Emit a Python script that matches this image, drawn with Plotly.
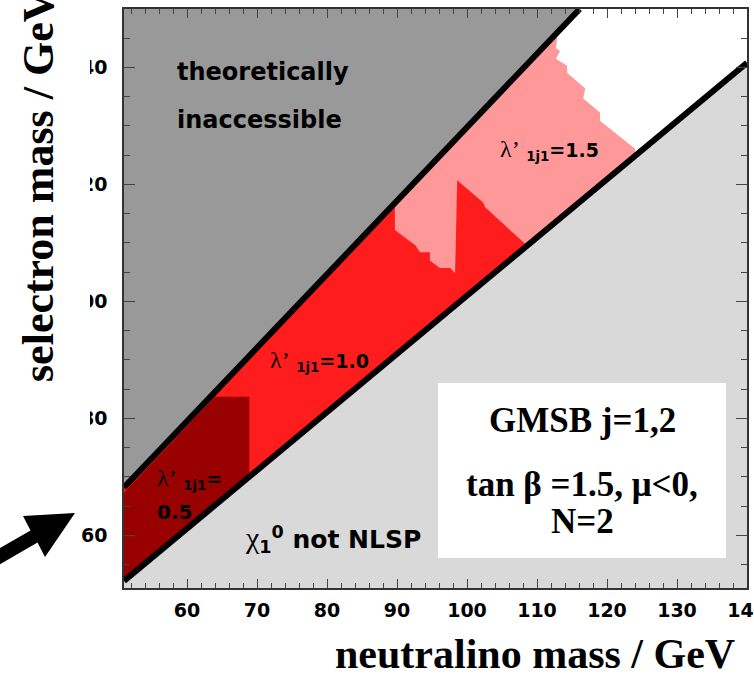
import plotly.graph_objects as go

# Kinematic boundaries (neutralino mass, selectron mass) in GeV
theory_edge_x = [51.0, 116.1]
theory_edge_y = [68.2, 150.0]
nlsp_edge_x = [51.0, 140.0]
nlsp_edge_y = [52.2, 140.8]

# Excluded regions for lambda'_1j1 = 1.5, 1.0, 0.5
excl15_x = [51.0, 51.0, 113.0, 112.7, 113.3, 112.7, 114.3, 114.3, 116.9, 116.6,
            119.0, 119.0, 124.0, 124.0]
excl15_y = [52.2, 68.2, 146.2, 143.3, 142.8, 141.5, 140.3, 139.1, 136.4, 134.7,
            132.3, 130.9, 126.1, 124.9]
excl10_x = [51.0, 51.0, 89.7, 89.7, 92.6, 93.3, 94.7, 94.7, 96.1, 97.6, 98.3,
            98.6, 102.3, 102.6, 108.6]
excl10_y = [52.2, 68.2, 116.9, 112.2, 109.6, 108.4, 108.4, 107.0, 105.7, 105.7,
            104.8, 120.7, 116.9, 116.1, 109.5]
excl05_x = [51.0, 51.0, 64.0, 68.9, 68.9]
excl05_y = [52.2, 67.3, 83.7, 83.7, 70.0]

x_ticks = [60, 70, 80, 90, 100, 110, 120, 130, 140]
y_ticks = [60, 80, 100, 120, 140]
x_range = [51, 140]
y_range = [51, 150]

W, H = 754, 674
L, R, T, B = 124, 7, 9, 86
PW, PH = W - L - R, H - T - B


def pp(xp, yp):
    """Pixel position on the page -> paper coordinates."""
    return (xp - L) / PW, (H - B - yp) / PH


fig = go.Figure()


def poly(xs, ys, color):
    fig.add_trace(go.Scatter(x=xs, y=ys, mode="lines", fill="toself",
                             fillcolor=color, line=dict(width=0, color=color),
                             hoverinfo="skip"))


# light grey: neutralino not the NLSP
poly([x_range[0], nlsp_edge_x[0], nlsp_edge_x[1], x_range[1]],
     [y_range[0] - 5, nlsp_edge_y[0], nlsp_edge_y[1], y_range[0] - 5], "#d9d9d9")
# dark grey: theoretically inaccessible
poly([theory_edge_x[0], x_range[0], theory_edge_x[1]],
     [theory_edge_y[0], y_range[1] + 5, theory_edge_y[1]], "#999999")
poly(excl15_x, excl15_y, "#ff9999")
poly(excl10_x, excl10_y, "#ff1c1c")
poly(excl05_x, excl05_y, "#990000")

for ex, ey in [(theory_edge_x, theory_edge_y), (nlsp_edge_x, nlsp_edge_y)]:
    fig.add_trace(go.Scatter(x=ex, y=ey, mode="lines",
                             line=dict(color="black", width=6), hoverinfo="skip"))

axis_common = dict(showgrid=False, zeroline=False, showline=True, linecolor="#333333",
                   linewidth=1.5, mirror="ticks", ticks="inside", tickcolor="#444444",
                   automargin=False, ticklabeloverflow="allow",
                   tickfont=dict(family="DejaVu Sans", size=19, color="black",
                                 weight="bold"))

fig.update_xaxes(range=x_range, tickvals=x_ticks,
                 ticktext=[f"<b>{v}</b>" for v in x_ticks],
                 ticklen=9, tickwidth=1.3, ticklabelstandoff=4,
                 minor=dict(dtick=2, ticks="inside", ticklen=5, tickcolor="#444444", tickwidth=1),
                 **axis_common)
fig.update_yaxes(range=y_range, tickvals=y_ticks,
                 ticktext=[f"<b>{v}</b>" for v in y_ticks],
                 ticklen=11, tickwidth=1.3, ticklabelstandoff=11,
                 minor=dict(dtick=5, ticks="inside", ticklen=6, tickcolor="#444444", tickwidth=1),
                 **axis_common)

shapes = []
# white info box
bx0, by0 = pp(438, 558)
bx1, by1 = pp(726, 383)
shapes.append(dict(type="rect", xref="paper", yref="paper", x0=bx0, y0=by0, x1=bx1, y1=by1,
                   fillcolor="white", line=dict(width=0), layer="above"))
# white strip at the page's left edge
cx0, cy0 = pp(0, 500)
cx1, cy1 = pp(90, -5)
shapes.append(dict(type="rect", xref="paper", yref="paper", x0=cx0, y0=cy0, x1=cx1, y1=cy1,
                   fillcolor="white", line=dict(width=0), layer="above"))
# black arrow
arrow_pts = [(-8.5, 552.9), (30.5, 530.4), (23, 516), (75, 513), (45, 557),
             (37.5, 542.6), (-1.5, 565)]
path = ""
for i, (ax_, ay_) in enumerate(arrow_pts):
    qx, qy = pp(ax_, ay_)
    path += ("M" if i == 0 else "L") + f"{qx:.5f},{qy:.5f} "
path += "Z"
shapes.append(dict(type="path", xref="paper", yref="paper", path=path,
                   fillcolor="black", line=dict(width=0), layer="above"))

sans = dict(family="DejaVu Sans", color="black", weight=700)
serif = dict(family="Liberation Serif", color="black", weight=700)
LAM = '<span style="font-family:Liberation Serif;font-weight:normal;font-size:24px">λ’</span>'

annots = []


def label(text, xp, yp, font, size, xanchor="left", **kw):
    ax_, ay_ = pp(xp, yp)
    annots.append(dict(text=text, x=ax_, y=ay_, xref="paper", yref="paper",
                       xanchor=xanchor, yanchor="middle", showarrow=False,
                       font=dict(size=size, **font), **kw))


label("theoretically", 175, 72, sans, 24)
label("inaccessible", 175, 120, sans, 24)
label(LAM + " <sub>1j1</sub>=1.5", 498, 150, sans, 19)
label(LAM + " <sub>1j1</sub>=1.0", 268, 361, sans, 19)
label(LAM + " <sub>1j1</sub>=", 155, 479, sans, 19)
label("0.5", 155, 512, sans, 20)
label('<span style="font-family:Liberation Serif;font-weight:normal;font-size:30px">χ</span>'
      '<sub>1</sub><sup>0</sup> not NLSP', 243, 539, sans, 25)
label("GMSB j=1,2", 582, 421, serif, 35, xanchor="center")
label("tan β =1.5, μ&lt;0,", 582, 484, serif, 35, xanchor="center")
label("N=2", 582, 521, serif, 35, xanchor="center")
label("neutralino mass / GeV", 535, 654, serif, 42, xanchor="center")
label("selectron mass / GeV", 38, 186, serif, 44, xanchor="center", textangle=-90)

fig.update_layout(width=W, height=H, margin=dict(l=L, r=R, t=T, b=B, autoexpand=False),
                  plot_bgcolor="white", paper_bgcolor="white", showlegend=False,
                  shapes=shapes, annotations=annots)

fig.write_html("out.html")
